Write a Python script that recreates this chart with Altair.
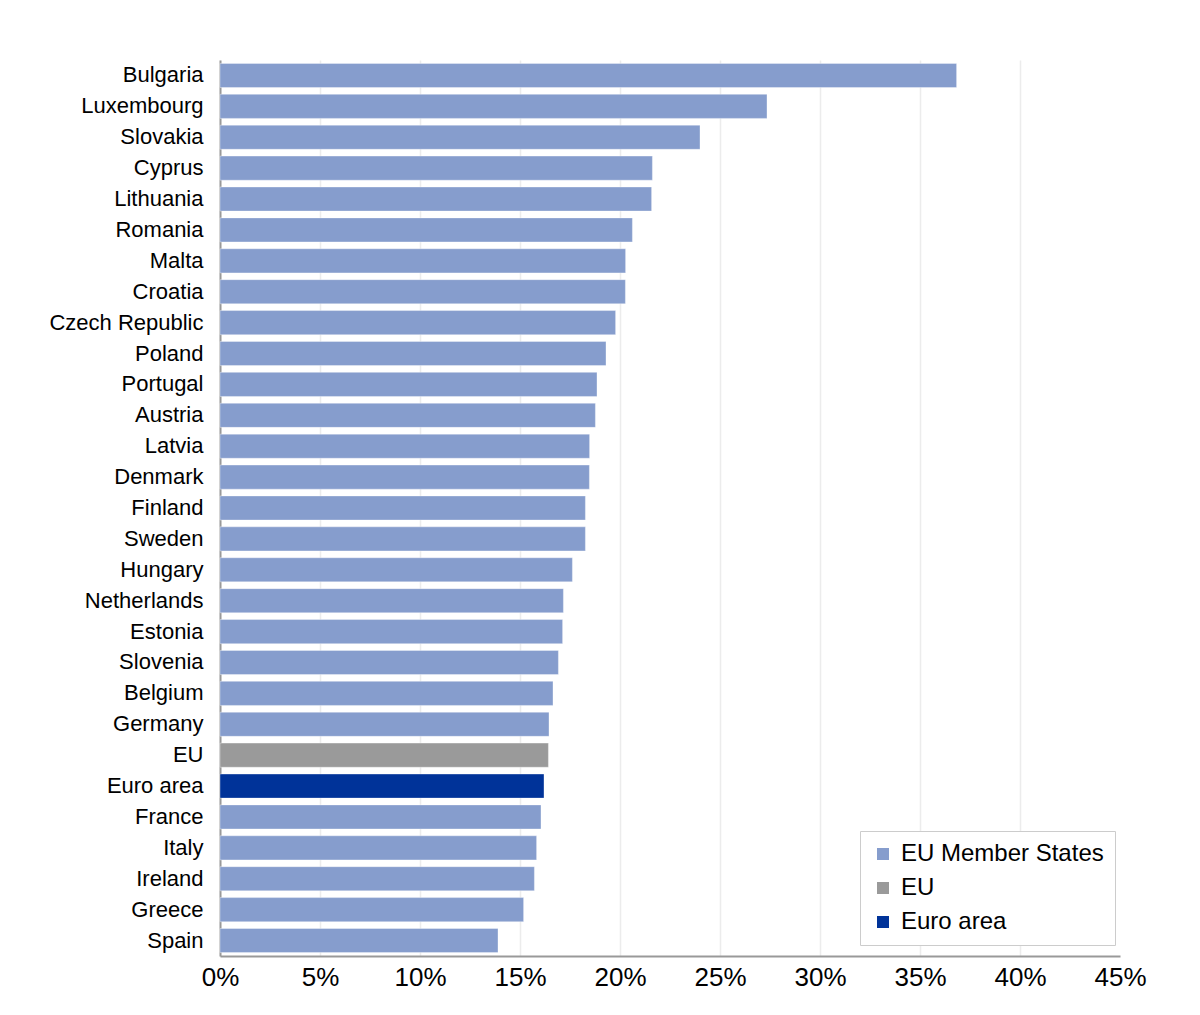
import altair as alt
import pandas as pd

countries = ["Bulgaria", "Luxembourg", "Slovakia", "Cyprus", "Lithuania", "Romania", "Malta",
             "Croatia", "Czech Republic", "Poland", "Portugal", "Austria", "Latvia", "Denmark",
             "Finland", "Sweden", "Hungary", "Netherlands", "Estonia", "Slovenia", "Belgium",
             "Germany", "EU", "Euro area", "France", "Italy", "Ireland", "Greece", "Spain"]
values = [36.83, 27.35, 24.0, 21.62, 21.58, 20.62, 20.28,
          20.27, 19.78, 19.3, 18.85, 18.77, 18.48, 18.47,
          18.27, 18.27, 17.62, 17.17, 17.13, 16.92, 16.65,
          16.45, 16.42, 16.2, 16.05, 15.83, 15.72, 15.18, 13.9]
groups = ["EU Member States"] * 22 + ["EU", "Euro area"] + ["EU Member States"] * 5

legend_order = ["EU Member States", "EU", "Euro area"]
legend_colors = ["#869dcd", "#9a9a9a", "#003399"]
x_ticks = [0, 5, 10, 15, 20, 25, 30, 35, 40, 45]

df = pd.DataFrame({"country": countries, "value": values, "group": groups})

FONT = "Liberation Sans"

chart = alt.Chart(df).mark_bar(
    stroke="white", strokeOpacity=0.35, strokeWidth=1
).encode(
    y=alt.Y("country:N", sort=countries, title=None,
            scale=alt.Scale(paddingInner=0.22, paddingOuter=0.11),
            axis=alt.Axis(labelFontSize=22, labelColor="black", labelFont=FONT,
                          ticks=False, labelPadding=17, domainColor="#999999",
                          domainWidth=2, grid=False, labelLimit=300)),
    x=alt.X("value:Q", title=None,
            scale=alt.Scale(domain=[0, 45], nice=False),
            axis=alt.Axis(values=x_ticks, labelExpr="datum.value + '%'",
                          labelFontSize=26, labelColor="black", labelFont=FONT,
                          ticks=False, labelPadding=8, domainColor="#999999",
                          domainWidth=2, grid=True,
                          gridColor=alt.condition("datum.value >= 45",
                                                  alt.value("transparent"),
                                                  alt.value("#ececec")),
                          gridWidth=1.5, labelFlush=False)),
    color=alt.Color("group:N",
                    scale=alt.Scale(domain=legend_order, range=legend_colors),
                    legend=alt.Legend(title=None, orient="none", legendX=640, legendY=771,
                                      labelFontSize=24, labelFont=FONT, labelColor="black",
                                      symbolType="square", symbolSize=144,
                                      symbolStrokeWidth=0, strokeColor="#cccccc",
                                      padding=11, rowPadding=10, labelOffset=6,
                                      labelLimit=400, fillColor="white")),
).properties(
    width=900, height=896,
    autosize=alt.AutoSizeParams(type="none"),
    padding={"left": 212, "top": 52, "right": 72, "bottom": 50},
).configure(font=FONT, background="white").configure_view(stroke=None)

chart.save("out.html", embed_options={"renderer": "svg", "actions": False})
